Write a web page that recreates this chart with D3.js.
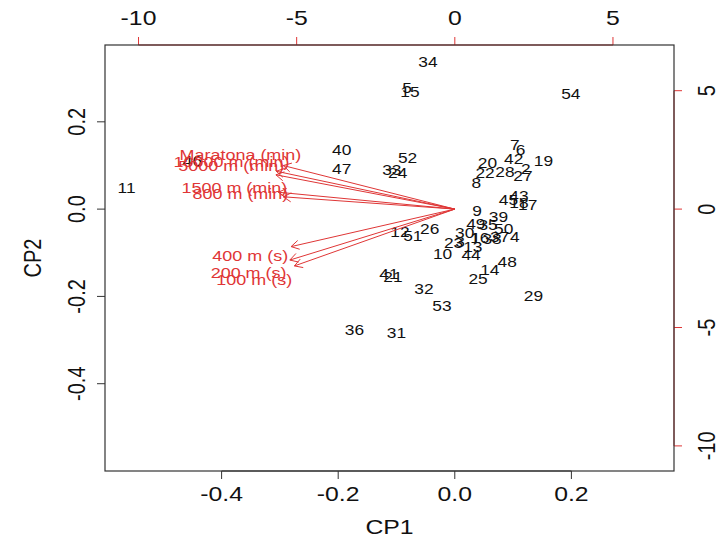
<!DOCTYPE html>
<html>
<head>
<meta charset="utf-8">
<script src="https://cdn.jsdelivr.net/npm/d3@7"></script>
<style>
  html, body { margin: 0; padding: 0; background: #fff; }
  svg { display: block; font-family: "Liberation Sans", Arial, sans-serif; }
</style>
</head>
<body>
<svg id="chart" width="719" height="542"></svg>
<script>
// Observation scores on the first two principal components
const obsLabels = ["1","2","3","4","5","6","7","8","9","10","11","12","13","14","15","16","17","18",
  "19","20","21","22","23","24","25","26","27","28","29","30","31","32","33","34","35","36",
  "37","38","39","40","41","42","43","44","45","46","47","48","49","50","51","52","53","54"];
const obsCP1 = [0.036, 0.122, 0.009, 0.103, -0.082, 0.113, 0.103, 0.037, 0.038, -0.021, -0.563, -0.094,
  0.031, 0.060, -0.077, 0.043, 0.125, 0.110, 0.152, 0.056, -0.106, 0.052, -0.002, -0.098, 0.040,
  -0.043, 0.117, 0.086, 0.135, 0.017, -0.100, -0.053, -0.108, -0.046, 0.057, -0.172, 0.077, 0.064,
  0.075, -0.194, -0.113, 0.101, 0.110, 0.028, 0.092, -0.450, -0.194, 0.090, 0.036, 0.084, -0.072,
  -0.081, -0.022, 0.199];
const obsCP2 = [-0.066, 0.093, -0.075, -0.064, 0.277, 0.135, 0.147, 0.060, -0.005, -0.102, 0.048, -0.052,
  -0.087, -0.140, 0.268, -0.066, 0.009, 0.014, 0.111, 0.105, -0.156, 0.082, -0.077, 0.083, -0.159,
  -0.046, 0.075, 0.086, -0.198, -0.055, -0.283, -0.183, 0.090, 0.337, -0.036, -0.277, -0.064, -0.068,
  -0.017, 0.135, -0.148, 0.116, 0.030, -0.106, 0.020, 0.110, 0.093, -0.122, -0.035, -0.046, -0.062,
  0.117, -0.222, 0.264];

// Variable loadings (label positions; arrows reach 80% of them)
const varNames = ["Maratona (min)", "10000 m (min)", "5000 m (min)", "1500 m (min)", "800 m (min)",
  "400 m (s)", "200 m (s)", "100 m (s)"];
const varCP1 = [-6.78, -7.06, -7.07, -6.97, -6.78, -6.47, -6.52, -6.34];
const varCP2 = [2.30, 2.00, 1.81, 0.89, 0.65, -1.98, -2.69, -3.00];

// Axis ticks
const scoreTicks = [-0.4, -0.2, 0.0, 0.2];
const scoreTickLabels = ["-0.4", "-0.2", "0.0", "0.2"];
const loadTicks = [-10, -5, 0, 5];
const loadTickLabels = ["-10", "-5", "0", "5"];

const scoreLim = [-0.6, 0.376];
const loadLim = [-11.06, 6.93];

const RED = "#df3636";
const SX = 1.24; // horizontal glyph stretch

const svg = d3.select("#chart");
const box = { left: 105, right: 674, top: 45, bottom: 471 };

const x = d3.scaleLinear().domain(scoreLim).range([box.left, box.right]);
const y = d3.scaleLinear().domain(scoreLim).range([box.bottom, box.top]);
const x2 = d3.scaleLinear().domain(loadLim).range([box.left, box.right]);
const y2 = d3.scaleLinear().domain(loadLim).range([box.bottom, box.top]);

function label(g, tx, ty, text, size, fill, rotate) {
  return g.append("text")
    .attr("transform", `translate(${tx},${ty}) scale(${SX},1)` + (rotate ? " rotate(-90)" : ""))
    .attr("text-anchor", "middle")
    .attr("dy", "0.36em")
    .attr("font-size", size)
    .attr("fill", fill)
    .text(text);
}

// Bottom axis (scores)
const gb = svg.append("g");
gb.append("line").attr("x1", x(scoreTicks[0])).attr("x2", x(scoreTicks[scoreTicks.length - 1]))
  .attr("y1", box.bottom).attr("y2", box.bottom).attr("stroke", "#333");
scoreTicks.forEach((v, i) => {
  gb.append("line").attr("x1", x(v)).attr("x2", x(v)).attr("y1", box.bottom).attr("y2", box.bottom + 8)
    .attr("stroke", "#333");
  label(gb, x(v), 494, scoreTickLabels[i], 20, "#111");
});
label(gb, (box.left + box.right) / 2, 527, "CP1", 20, "#111");

// Left axis (scores)
const gl = svg.append("g");
scoreTicks.forEach((v, i) => {
  gl.append("line").attr("x1", box.left - 8).attr("x2", box.left).attr("y1", y(v)).attr("y2", y(v))
    .attr("stroke", "#333");
  label(gl, 76, y(v), scoreTickLabels[i], 20, "#111", true);
});
label(gl, 32, (box.top + box.bottom) / 2, "CP2", 20, "#111", true);

// Top axis (loadings)
const gt = svg.append("g");
gt.append("line").attr("x1", x2(loadTicks[0])).attr("x2", x2(loadTicks[loadTicks.length - 1]))
  .attr("y1", box.top).attr("y2", box.top).attr("stroke", RED);
loadTicks.forEach((v, i) => {
  gt.append("line").attr("x1", x2(v)).attr("x2", x2(v)).attr("y1", box.top - 8).attr("y2", box.top)
    .attr("stroke", RED);
  label(gt, x2(v), 18, loadTickLabels[i], 20, "#111");
});

// Right axis (loadings)
const gr = svg.append("g");
gr.append("line").attr("x1", box.right).attr("x2", box.right)
  .attr("y1", y2(loadTicks[0])).attr("y2", y2(loadTicks[loadTicks.length - 1])).attr("stroke", RED);
loadTicks.forEach((v, i) => {
  gr.append("line").attr("x1", box.right).attr("x2", box.right + 8).attr("y1", y2(v)).attr("y2", y2(v))
    .attr("stroke", RED);
  label(gr, 706, y2(v), loadTickLabels[i], 20, "#111", true);
});

// Plot frame
svg.append("rect")
  .attr("x", box.left).attr("y", box.top)
  .attr("width", box.right - box.left).attr("height", box.bottom - box.top)
  .attr("fill", "none").attr("stroke", "#333").attr("stroke-width", 1.2);

// Observation labels
const go = svg.append("g");
obsLabels.forEach((lab, i) => {
  label(go, x(obsCP1[i]), y(obsCP2[i]), lab, 14, "#111");
});

// Variable arrows and labels
const ga = svg.append("g");
const ox = x2(0), oy = y2(0);
const headLen = 9, headAng = Math.PI / 6;
varNames.forEach((name, i) => {
  const tx = x2(varCP1[i] * 0.8), ty = y2(varCP2[i] * 0.8);
  ga.append("line").attr("x1", ox).attr("y1", oy).attr("x2", tx).attr("y2", ty)
    .attr("stroke", RED).attr("stroke-width", 1);
  const a = Math.atan2(ty - oy, tx - ox);
  const p1 = [tx - headLen * Math.cos(a - headAng), ty - headLen * Math.sin(a - headAng)];
  const p2 = [tx - headLen * Math.cos(a + headAng), ty - headLen * Math.sin(a + headAng)];
  ga.append("path")
    .attr("d", d3.line()([p1, [tx, ty], p2]))
    .attr("fill", "none").attr("stroke", RED).attr("stroke-width", 1);
});
varNames.forEach((name, i) => {
  label(ga, x2(varCP1[i]), y2(varCP2[i]), name, 14.5, RED);
});
</script>
</body>
</html>
